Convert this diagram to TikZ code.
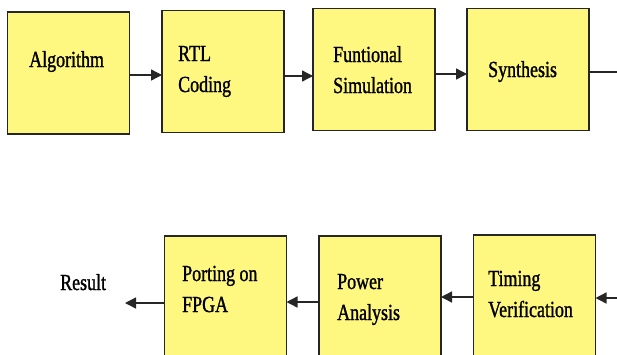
\documentclass[tikz,border=0pt]{standalone}
\usepackage{fontspec}
\setmainfont{Liberation Serif}[FakeStretch=0.78,FakeBold=1.2]
\usetikzlibrary{arrows.meta}
\tikzset{
  x=1pt,y=1pt,
  box/.style={draw=black!85,line width=1.4pt,fill=yellow!50,minimum width=122,minimum height=122,inner sep=0pt,outer sep=0pt},
  lbl/.style={anchor=base west,inner sep=0pt,align=left,font=\fontsize{23}{31}\selectfont},
  arr/.style={draw=black!85,line width=1.4pt,-{Triangle[length=11pt,width=11pt]}}
}
\begin{document}
\begin{tikzpicture}
\clip (0,0) rectangle (617,-354);
\fill[white] (0,0) rectangle (617,-354);
% top row
\node[box] (b1) at (68.5,-73) {};
\node[box] (b2) at (223,-71.5) {};
\node[box] (b3) at (374,-69.5) {};
\node[box] (b4) at (528,-69.5) {};
% bottom row
\node[box,minimum height=130] (b5) at (225.5,-301) {};
\node[box,minimum height=130] (b6) at (380,-301) {};
\node[box,minimum height=130] (b7) at (534.5,-300) {};
% labels (anchor = baseline of last line)
\node[lbl] (t1) at (29,-67) {Algorithm};
\node[lbl] (t2) at (178,-92) {RTL\\Coding};
\node[lbl] (t3) at (333,-93) {Funtional\\Simulation};
\node[lbl] (t4) at (488,-77) {Synthesis};
\node[lbl] (t5) at (182,-312) {Porting on\\FPGA};
\node[lbl] (t6) at (337,-320) {Power\\Analysis};
\node[lbl] (t7) at (488,-317) {Timing\\Verification};
\node[lbl] (res) at (60,-290) {Result};
% helper coordinates
\coordinate (ya) at (0,-75);
\coordinate (yb) at (0,-76);
\coordinate (yc) at (0,-74);
\coordinate (yd) at (0,-72);
\coordinate (ye) at (0,-298);
\coordinate (yf) at (0,-297);
\coordinate (yg) at (0,-302);
\coordinate (yh) at (0,-303);
\coordinate (outtop) at (630,-72);
\coordinate (inbot) at (630,-298);
\coordinate (resend) at (125,-303);
% connectors
\draw[arr] (b1.east |- ya) -- (b2.west |- ya);
\draw[arr] (b2.east |- yb) -- (b3.west |- yb);
\draw[arr] (b3.east |- yc) -- (b4.west |- yc);
\draw[draw=black!85,line width=1.4pt] (b4.east |- yd) -- (outtop);
\draw[arr] (inbot) -- (b7.east |- ye);
\draw[arr] (b7.west |- yf) -- (b6.east |- yf);
\draw[arr] (b6.west |- yg) -- (b5.east |- yg);
\draw[arr] (b5.west |- yh) -- (resend);
\end{tikzpicture}
\end{document}
